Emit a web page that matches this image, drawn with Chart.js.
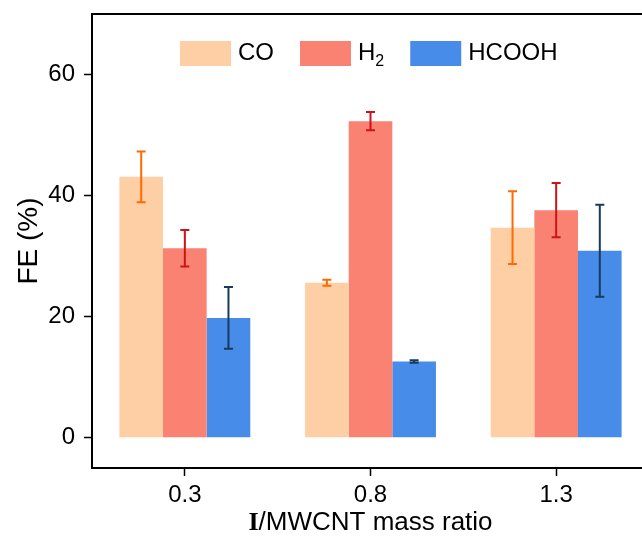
<!DOCTYPE html>
<html>
<head>
<meta charset="utf-8">
<script src="https://cdn.jsdelivr.net/npm/chart.js@4.4.0/dist/chart.umd.min.js"></script>
<style>
  body { margin: 0; background: #fff; overflow: hidden; }
  #wrap { width: 660px; height: 540px; }
</style>
</head>
<body>
<div id="wrap"><canvas id="grafico" width="660" height="540"></canvas></div>
<script>
const ratios = ['0.3', '0.8', '1.3'];
const coFE = [43.1, 25.6, 34.7];
const coErr = [4.2, 0.5, 6.0];
const h2FE = [31.3, 52.3, 37.6];
const h2Err = [3.0, 1.5, 4.5];
const hcoohFE = [19.8, 12.6, 30.9];
const hcoohErr = [5.1, 0.2, 7.6];
const yTicks = [0, 20, 40, 60];

const sansFont = 'Liberation Sans, Arial, Helvetica, sans-serif';
Chart.defaults.font.family = sansFont;
Chart.defaults.color = '#000';

// barras de erro desenhadas sobre cada barra
const errorBars = {
    id: 'errorBars',
    afterDatasetsDraw(chart) {
        const ctx = chart.ctx;
        const y = chart.scales.y;
        chart.data.datasets.forEach((ds, i) => {
            const meta = chart.getDatasetMeta(i);
            meta.data.forEach((bar, j) => {
                const v = ds.data[j], e = ds.errors[j];
                const top = y.getPixelForValue(v + e);
                const bot = y.getPixelForValue(v - e);
                ctx.save();
                ctx.strokeStyle = ds.errorColor;
                ctx.lineWidth = 2;
                ctx.beginPath();
                ctx.moveTo(bar.x, top); ctx.lineTo(bar.x, bot);
                ctx.moveTo(bar.x - 4.5, top); ctx.lineTo(bar.x + 4.5, top);
                ctx.moveTo(bar.x - 4.5, bot); ctx.lineTo(bar.x + 4.5, bot);
                ctx.stroke();
                ctx.restore();
            });
        });
    }
};

// moldura, legenda e titulo do eixo x
const decor = {
    id: 'decor',
    afterDraw(chart) {
        const ctx = chart.ctx;
        const a = chart.chartArea;
        ctx.save();
        ctx.strokeStyle = '#000';
        ctx.lineWidth = 2;
        ctx.beginPath();
        ctx.moveTo(a.left, a.top); ctx.lineTo(a.right, a.top); ctx.lineTo(a.right, a.bottom);
        ctx.stroke();

        // legenda
        let x = 180;
        const boxY = 41, boxW = 51, boxH = 25;
        ctx.textBaseline = 'middle';
        ctx.textAlign = 'left';
        chart.data.datasets.forEach(ds => {
            ctx.fillStyle = ds.backgroundColor;
            ctx.fillRect(x, boxY, boxW, boxH);
            x += boxW + 7;
            ctx.fillStyle = '#000';
            ctx.font = '24px ' + sansFont;
            ctx.fillText(ds.label, x, boxY + boxH / 2);
            x += ctx.measureText(ds.label).width;
            if (ds.sub) {
                ctx.font = '16px ' + sansFont;
                ctx.fillText(ds.sub, x, boxY + boxH / 2 + 8);
                x += ctx.measureText(ds.sub).width;
            }
            x += 26;
        });

        // titulo do eixo x: "I" em serifa negrito
        const part1 = 'I', part2 = '/MWCNT mass ratio';
        ctx.font = 'bold 26px Liberation Serif, Times New Roman, serif';
        const w1 = ctx.measureText(part1).width;
        ctx.font = '26px ' + sansFont;
        const w2 = ctx.measureText(part2).width;
        const cx = (a.left + a.right) / 2;
        let tx = cx - (w1 + w2) / 2;
        const ty = 523;
        ctx.font = 'bold 26px Liberation Serif, Times New Roman, serif';
        ctx.fillText(part1, tx, ty);
        ctx.font = '26px ' + sansFont;
        ctx.fillText(part2, tx + w1, ty);
        ctx.restore();
    }
};

new Chart(document.getElementById('grafico'), {
    type: 'bar',
    data: {
        labels: ratios,
        datasets: [
            { label: 'CO', data: coFE, errors: coErr, backgroundColor: '#FECFA4', errorColor: '#FF6A00' },
            { label: 'H', sub: '2', data: h2FE, errors: h2Err, backgroundColor: '#F98272', errorColor: '#CC1418' },
            { label: 'HCOOH', data: hcoohFE, errors: hcoohErr, backgroundColor: '#478CE8', errorColor: '#183A5E' }
        ]
    },
    options: {
        responsive: false,
        animation: false,
        layout: { padding: { top: 14, right: 11, left: 0, bottom: 0 } },
        datasets: { bar: { barPercentage: 1, categoryPercentage: 0.705, borderWidth: 0 } },
        plugins: { legend: { display: false }, tooltip: { enabled: false } },
        scales: {
            x: {
                offset: true,
                grid: { offset: false, drawOnChartArea: false, drawTicks: true, tickLength: 8, tickWidth: 1.5, tickColor: '#000' },
                border: { display: true, color: '#000', width: 2 },
                ticks: { font: { size: 24 }, color: '#000', padding: 5 },
                afterFit(scale) {
                    scale.height = 72;
                    scale.paddingLeft = 0; scale.paddingRight = 0;
                }
            },
            y: {
                min: -5,
                max: 70,
                afterBuildTicks(scale) { scale.ticks = yTicks.map(v => ({ value: v })); },
                grid: { drawOnChartArea: false, drawTicks: true, tickLength: 8, tickWidth: 1.5, tickColor: '#000' },
                border: { display: true, color: '#000', width: 2 },
                ticks: { font: { size: 24 }, color: '#000', padding: 9 },
                title: { display: true, text: 'FE (%)', font: { size: 28 }, color: '#000', padding: { top: 12, bottom: 0 } },
                afterFit(scale) {
                    scale.width = 92;
                    scale.paddingTop = 0; scale.paddingBottom = 0;
                }
            }
        }
    },
    plugins: [errorBars, decor]
});
</script>
</body>
</html>
